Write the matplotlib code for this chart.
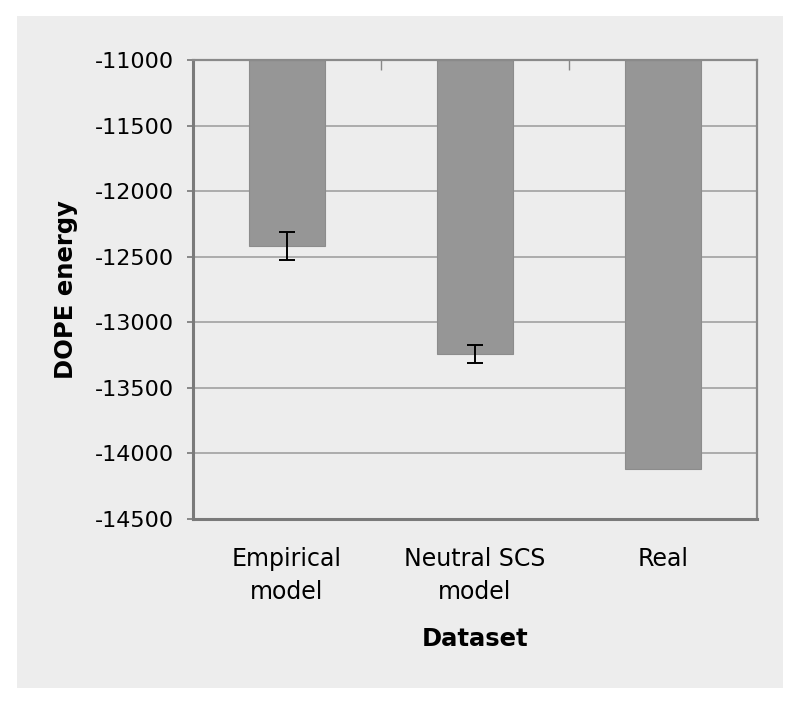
#!/usr/bin/env python3
import numpy as np
import matplotlib
matplotlib.use("Agg")
import matplotlib.pyplot as plt
from matplotlib.patches import Rectangle

categories = ["Empirical\nmodel", "Neutral SCS\nmodel", "Real"]
dope_energy = [-12418, -13240, -14120]
dope_err = [105, 69, 0]
baseline = -11000
y_ticks = [-11000, -11500, -12000, -12500, -13000, -13500, -14000, -14500]


def main():
    fig = plt.figure(figsize=(8, 7.05), dpi=100)
    fig.patch.set_facecolor("white")
    W, H = 800, 705
    # light grey chart panel (behind the axes)
    fig.patches.append(Rectangle((17 / W, 1 - 688 / H), 766 / W, 672 / H,
                                 transform=fig.transFigure, facecolor="#ededed",
                                 edgecolor="none", zorder=-10))

    ax = fig.add_axes([193 / W, 1 - 519 / H, 564 / W, 459 / H])
    ax.set_facecolor("#ededed")

    x = np.arange(len(categories))
    heights = [v - baseline for v in dope_energy]
    ax.bar(x, heights, bottom=baseline, width=0.4, color="#969696",
           edgecolor="#8c8c8c", linewidth=0.8, zorder=2)
    err_x = [i for i in x if dope_err[i] > 0]
    ax.errorbar(err_x, [dope_energy[i] for i in err_x],
                yerr=[dope_err[i] for i in err_x], fmt="none", ecolor="black",
                elinewidth=1.4, capsize=5.5, capthick=1.4, zorder=3)

    ax.set_xlim(-0.5, 2.5)
    ax.set_ylim(-14500, -11000)
    ax.set_yticks(y_ticks)
    ax.set_yticklabels([str(t) for t in y_ticks], fontsize=16)
    ax.yaxis.grid(True, color="#9a9a9a", linewidth=1.1, zorder=1)
    ax.set_axisbelow(True)

    # category labels at the bottom, ticks between categories at top axis
    ax.set_xticks(x)
    ax.set_xticklabels(categories, fontsize=17, linespacing=1.5)
    ax.tick_params(axis="x", length=0, pad=20)
    ax.tick_params(axis="y", length=4, width=1.2, color="#777777", pad=9.5)
    ax.set_xticks([0.5, 1.5], minor=True)
    ax.tick_params(axis="x", which="minor", direction="in", top=True,
                   bottom=False, length=7, color="#888888", width=1)

    for side in ["left", "bottom"]:
        ax.spines[side].set_color("#7a7a7a")
        ax.spines[side].set_linewidth(2.2)
    for side in ["top", "right"]:
        ax.spines[side].set_color("#8a8a8a")
        ax.spines[side].set_linewidth(1.6)

    font = {"weight": "bold", "fontsize": 17.5}
    ax.set_ylabel("DOPE energy", fontdict=font, labelpad=12)
    ax.set_xlabel("Dataset", fontdict=font, labelpad=16)

    fig.savefig("out.png", dpi=100)


if __name__ == "__main__":
    main()
